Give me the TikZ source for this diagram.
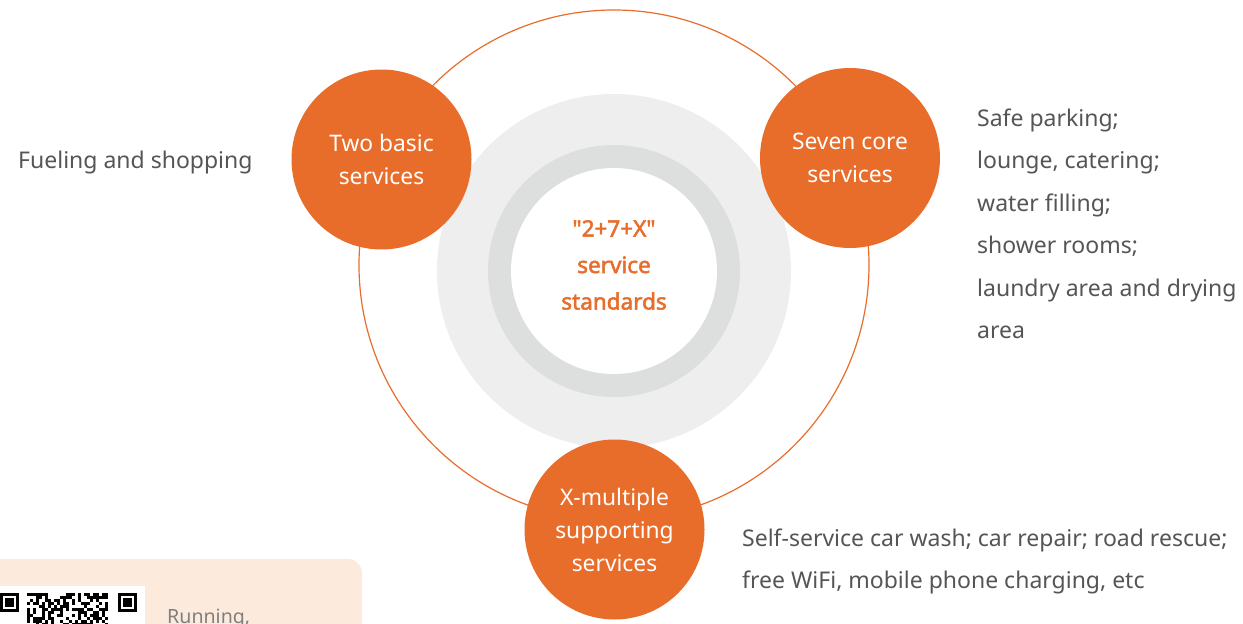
\documentclass[tikz,border=0pt]{standalone}
\usepackage{fontspec}
\setmainfont{Noto Sans}
\newfontfamily\titlefont[FakeBold=2.2]{Noto Sans}
\definecolor{brand}{HTML}{E86D2A}
\definecolor{txtgray}{HTML}{555555}
\definecolor{disk}{HTML}{EEEEEE}
\definecolor{ringgray}{HTML}{DDDEDE}
\definecolor{peach}{HTML}{FCEBDD}
\begin{document}
\begin{tikzpicture}[x=1pt,y=-1pt,
  svc/.style={circle,fill=brand,minimum size=180pt,inner sep=0pt,text=white,align=center,font=\fontsize{22.8}{33}\selectfont},
  desc/.style={text=txtgray,anchor=base west,inner sep=0pt,font=\fontsize{23}{28}\selectfont}]
\useasboundingbox (0,0) rectangle (1243,624);
% outer thin ring
\draw[brand,line width=1.2pt] (614,265) circle (255);
% gray disk and ring
\fill[disk] (614,271) circle (177);
\fill[ringgray] (614,271) circle (126);
\fill[white] (614,271) circle (103);
\node[text=brand,align=center,font=\titlefont\fontsize{22.5}{36.5}\selectfont] (center) at (614,265) {\textquotedbl 2+7+X\textquotedbl\\service\\standards};
% service circles
\node[svc] (two) at (381.5,159.5) {Two basic\\services};
\node[svc] (seven) at (850,158) {Seven core\\services};
\node[svc] (xm) at (614.5,529.5) {X-multiple\\supporting\\services};
% descriptions
\node[desc] (d1) at (18,168) {Fueling and shopping};
\node[desc] (r1) at (977,126) {Safe parking;};
\node[desc] (r2) at (977,168.5) {lounge, catering;};
\node[desc] (r3) at (977,211) {water filling;};
\node[desc] (r4) at (977,253.5) {shower rooms;};
\node[desc] (r5) at (977,296) {laundry area and drying};
\node[desc] (r6) at (977,338.5) {area};
\node[desc] (b1) at (742,546) {Self-service car wash; car repair; road rescue;};
\node[desc] (b2) at (742,588.5) {free WiFi, mobile phone charging, etc};
% bottom-left card
\fill[peach,rounded corners=14pt] (-20,559) rectangle (362,660);
\fill[white] (0,586) rectangle (145,630);
% QR finders
\foreach \fx in {0,118}{
  \fill[black] (\fx,593) rectangle ++(19,19);
  \fill[white] (\fx+2.7,595.7) rectangle ++(13.6,13.6);
  \fill[black] (\fx+5.4,598.4) rectangle ++(8.2,8.2);
}
\pgfmathsetseed{7}
\foreach \i in {0,...,26}{
  \foreach \j in {0,...,10}{
    \pgfmathsetmacro{\r}{rnd}
    \ifdim\r pt>0.45pt
      \fill[black] (27+\i*3,593+\j*3) rectangle ++(3,3);
    \fi
  }
}
\node[text=txtgray!75,anchor=base west,inner sep=0pt,font=\fontsize{19.6}{22}\selectfont] (run) at (167,623) {Running,};
\end{tikzpicture}
\end{document}
